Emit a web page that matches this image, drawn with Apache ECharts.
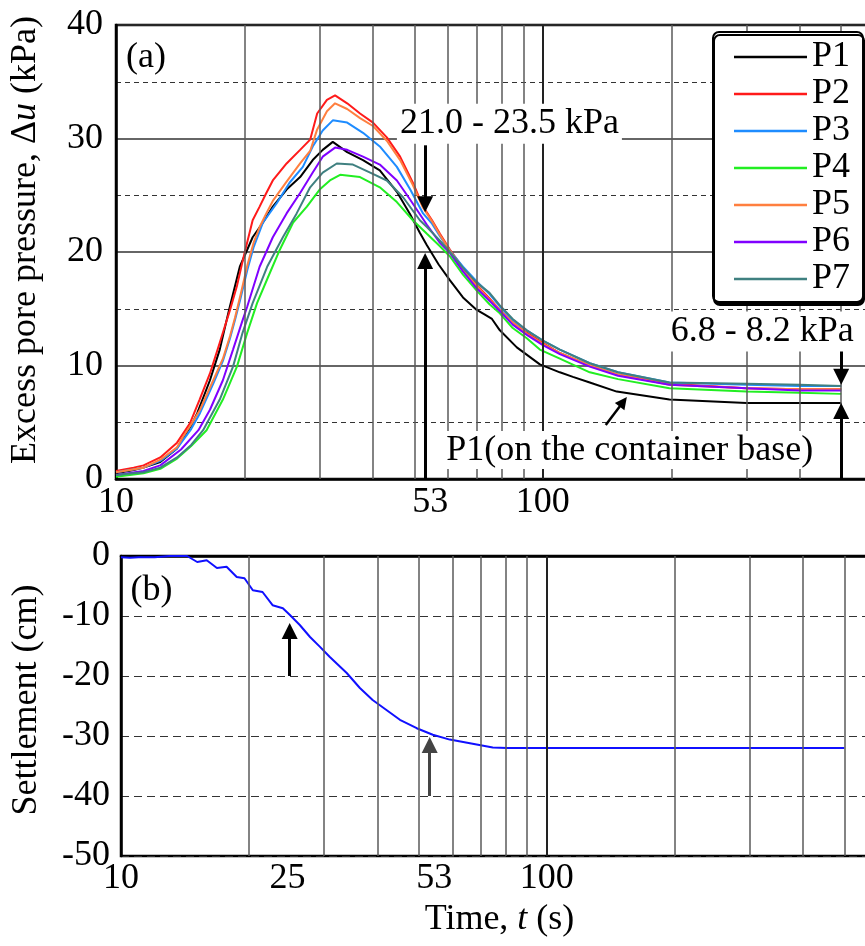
<!DOCTYPE html>
<html>
<head>
<meta charset="utf-8">
<script src="https://cdn.jsdelivr.net/npm/echarts@6/dist/echarts.min.js"></script>
<style>html,body{margin:0;padding:0;background:#fff}#c{width:865px;height:946px}</style>
</head>
<body>
<div id="c"></div>
<script>
// ---------- DATA (time in s) ----------
const seriesNames = ['P1', 'P2', 'P3', 'P4', 'P5', 'P6', 'P7'];

const p1 = [[10,0.5],[11,0.8],[11.6,1.0],[12.7,1.5],[13.9,2.7],[14.35,3.6],[15.0,4.7],[15.5,5.8],[16.6,8.7],[17.5,11.4],[18.4,14.9],[19.5,18.7],[20.9,21.3],[22.1,22.6],[23.3,24.0],[25.1,25.5],[27.0,26.6],[28.9,28.1],[30.5,29.0],[32.2,29.7],[34.8,28.8],[37.9,28.1],[41.5,27.2],[45.5,25.3],[48.9,23.3],[51.5,21.7],[53.5,20.6],[57,18.9],[60.6,17.5],[65,16.0],[70,14.9],[73,14.5],[76,14.1],[79.3,13.1],[86.9,11.6],[98.4,10.1],[109.6,9.4],[117.6,9.0],[128.8,8.5],[149,7.7],[198,7.0],[300,6.7],[400,6.7],[500,6.7]];
const p2 = [[10,0.7],[11,1.0],[11.6,1.2],[12.7,1.9],[13.9,3.2],[14.9,4.9],[15.7,7.0],[16.6,9.3],[17.5,12.0],[18.5,14.9],[19.2,17.0],[20.0,19.9],[20.9,22.8],[21.7,24.0],[22.5,25.2],[23.3,26.3],[25.1,27.8],[27.0,29.0],[28.5,29.9],[29.6,32.2],[31.2,33.4],[32.6,33.8],[34.8,33.1],[37.3,32.2],[40.0,31.4],[43.1,30.1],[46.3,28.4],[49.6,26.1],[52.4,24.0],[55,22.8],[57.4,21.6],[60.6,20.2],[65,18.6],[70,17.1],[75,15.9],[79.3,14.9],[85,13.8],[91.7,12.9],[100,12.0],[109.6,11.1],[128.8,10.0],[150,9.2],[198,8.4],[300,8.0],[400,7.9],[500,7.9]];
const p3 = [[10,0.6],[11.6,1.0],[12.7,1.6],[13.9,2.7],[15.0,4.4],[15.73,5.8],[16.9,8.4],[17.8,10.4],[18.5,12.4],[19.0,14.0],[19.6,16.0],[20.3,18.4],[21.0,20.4],[22.1,22.6],[23.8,24.3],[25.5,26.1],[27.4,27.5],[28.9,29.3],[30.5,30.7],[32.2,31.6],[34.8,31.4],[37.9,30.5],[41.5,29.3],[45.5,27.5],[48.9,25.5],[52.4,23.4],[55,22.5],[57.4,21.4],[60.6,20.1],[65,18.7],[70,17.4],[75,16.3],[79.3,15.2],[85,14.0],[91.7,13.1],[100,12.2],[109.6,11.4],[128.8,10.2],[150,9.4],[198,8.5],[300,8.3],[400,8.2],[500,8.2]];
const p4 = [[10,0.2],[11.6,0.5],[12.7,0.9],[13.9,1.8],[15.0,2.9],[16.3,4.3],[17.8,7.0],[19.2,9.9],[20.3,12.9],[21.4,15.5],[22.6,17.6],[24.2,20.2],[26.0,22.6],[28.0,24.0],[30.0,25.5],[31.7,26.3],[33.5,26.8],[37.3,26.6],[41.5,25.7],[45.5,24.4],[49.6,22.8],[53.5,21.6],[57.4,20.5],[60.6,19.6],[65,18.0],[70,16.6],[75,15.4],[79.3,14.6],[85,13.3],[91.7,12.4],[98.4,11.4],[109.6,10.6],[128.8,9.4],[150,8.8],[198,8.0],[300,7.7],[400,7.6],[500,7.5]];
const p5 = [[10,0.6],[11.6,1.0],[12.7,1.7],[13.9,2.8],[14.35,3.7],[15.0,4.8],[15.73,6.1],[16.9,8.7],[17.8,10.6],[18.5,12.6],[19.0,14.2],[19.6,16.3],[20.3,18.8],[21.0,20.8],[21.7,22.2],[22.5,23.4],[23.3,24.5],[25.1,26.2],[27.0,27.8],[28.5,28.9],[29.6,30.8],[31.2,32.4],[32.6,33.1],[34.8,32.6],[37.3,31.8],[40.0,31.1],[43.1,29.8],[46.3,28.1],[49.6,25.9],[52.4,23.9],[55,22.7],[57.4,21.5],[60.6,20.1],[65,18.5],[70,17.0],[75,15.8],[79.3,14.9],[85,13.8],[91.7,12.8],[100,11.9],[109.6,11.1],[128.8,10.0],[150,9.2],[198,8.3],[300,8.0],[400,7.9],[500,7.9]];
const p6 = [[10,0.35],[11.6,0.7],[12.7,1.2],[14.2,2.6],[15.6,4.3],[16.6,6.1],[17.8,8.7],[18.8,11.4],[19.8,14.0],[20.3,15.2],[21.7,18.7],[23.3,21.3],[25.1,23.4],[27.0,25.2],[28.9,27.0],[30.5,28.4],[32.6,29.2],[34.8,29.0],[37.9,28.4],[41.5,27.7],[45.5,26.3],[48.9,24.6],[53.5,22.4],[57.4,20.8],[60.6,19.9],[65,18.3],[70,16.8],[75,15.7],[79.3,14.8],[85,13.6],[91.7,12.7],[100,11.8],[109.6,11.0],[128.8,9.9],[150,9.1],[198,8.3],[300,8.0],[400,7.8],[500,7.8]];
const p7 = [[10,0.35],[11.6,0.6],[12.7,1.0],[13.9,1.9],[15.0,3.0],[16.0,4.3],[17.5,7.0],[18.8,9.9],[19.8,12.9],[20.9,15.5],[22.6,18.7],[24.6,21.3],[26.5,23.4],[28.5,25.7],[30.5,27.0],[32.9,27.8],[35.9,27.7],[39.4,27.0],[43.1,26.3],[47.1,24.8],[51.5,22.8],[53.5,22.2],[57.4,21.0],[60.6,20.0],[65,18.6],[70,17.3],[75,16.4],[79.3,15.3],[85,14.1],[91.7,13.1],[100,12.2],[109.6,11.4],[128.8,10.2],[150,9.4],[198,8.5],[300,8.4],[400,8.3],[500,8.2]];

const settlement = [[10,-0.2],[10.5,-0.3],[11,-0.2],[12,-0.2],[13,0],[14.3,0],[15.1,-1.0],[15.9,-0.7],[16.8,-2.0],[17.7,-1.8],[18.7,-3.5],[19.5,-3.7],[20.4,-5.7],[21.5,-6.0],[22.7,-8.2],[24.0,-8.7],[24.9,-9.8],[26.3,-11.5],[27.8,-13.5],[29.3,-15.1],[30.9,-16.8],[33.9,-19.5],[36.4,-22.0],[39.0,-24.0],[42.1,-25.7],[45.2,-27.3],[49.5,-28.7],[54.0,-29.8],[59.2,-30.6],[66.0,-31.2],[74.7,-31.9],[80.6,-32.0],[100,-32.0],[200,-32.0],[300,-32.0],[500,-32.0]];

const xTickLabelsTop = [10, 53, 100];
const xTickLabelsBottom = [10, 25, 53, 100];
const xGridValues = [20, 30, 40, 50, 60, 70, 80, 90, 100, 200, 300, 400, 500];

// ---------- CHART ----------
const FONT = 'Liberation Serif';
const curves = [p1, p2, p3, p4, p5, p6, p7];
const curveColors = ['#000000', '#ff1a1a', '#1e8cff', '#22ee22', '#ff7f3f', '#8000ff', '#3f8080'];
const isPow10 = v => Math.abs(Math.log10(v) - Math.round(Math.log10(v))) < 1e-6;

const chart = echarts.init(document.getElementById('c'));

function xAxisDef(gridIndex, labels, name) {
  return {
    gridIndex, type: 'log', logBase: 10, min: 10, max: 600,
    axisLine: { show: true, lineStyle: { color: '#000', width: 2.5 } },
    axisTick: { show: false },
    splitLine: { show: false },
    axisLabel: {
      fontSize: 36, fontFamily: FONT, color: '#000', margin: gridIndex === 0 ? 6 : 5,
      formatter: v => (isPow10(v) && labels.includes(Math.round(v))) ? String(Math.round(v)) : ''
    },
    name: name || '', nameLocation: 'middle', nameGap: 46,
    nameTextStyle: { fontSize: 36, fontFamily: FONT, color: '#000',
      rich: { i: { fontStyle: 'italic', fontSize: 36, fontFamily: FONT, color: '#000' } } }
  };
}

function gridLineSeries(idx) {
  return {
    type: 'line', name: '_grid' + idx, xAxisIndex: idx, yAxisIndex: idx, data: [], z: 1, silent: true,
    markLine: {
      silent: true, symbol: ['none', 'none'], label: { show: false }, animation: false,
      lineStyle: { color: '#5a5a5a', width: 1.5, type: 'solid' },
      data: xGridValues.map(v => ({ xAxis: v, lineStyle: v === 100 ? { color: '#222', width: 2 } : {} }))
    }
  };
}

const solidItem = { opacity: 1 };

function extraTickSeries(idx, labels, yMin) {
  return {
    type: 'scatter', name: '_ticks' + idx, xAxisIndex: idx, yAxisIndex: idx, symbolSize: 0, z: 5, silent: true,
    itemStyle: solidItem,
    data: labels.filter(v => !isPow10(v)).map(v => ({
      value: [v, yMin],
      label: { formatter: String(v), offset: [v === 53 ? 5 : -3, 0] }
    })),
    label: { show: true, position: 'bottom', distance: idx === 0 ? 6 : 5, fontSize: 36, fontFamily: FONT, color: '#000', opacity: 1 }
  };
}

const textStyleAnno = { show: true, position: 'inside', fontSize: 36, fontFamily: FONT, color: '#000', opacity: 1 };

const option = {
  animation: false,
  backgroundColor: '#fff',
  grid: [
    { left: 116, top: 25, right: -10, height: 454, show: true, borderColor: '#000', borderWidth: 2.5, outerBoundsMode: 'none' },
    { left: 121, top: 556, right: -13, height: 300, show: true, borderColor: '#000', borderWidth: 2.5, outerBoundsMode: 'none' }
  ],
  xAxis: [xAxisDef(0, xTickLabelsTop), xAxisDef(1, xTickLabelsBottom, 'Time, {i|t} (s)')],
  yAxis: [
    {
      gridIndex: 0, type: 'value', min: 0, max: 40, interval: 10,
      axisLine: { show: true, lineStyle: { color: '#000', width: 2.5 } },
      axisTick: { show: false },
      axisLabel: { fontSize: 36, fontFamily: FONT, color: '#000', margin: 13 },
      splitLine: { show: true, lineStyle: { color: '#333', width: 1.5 } },
      minorTick: { show: false, splitNumber: 2 },
      minorSplitLine: { show: true, lineStyle: { color: '#333', width: 1.2, type: [5, 4] } },
      name: 'Excess pore pressure, Δ{i|u} (kPa)', nameLocation: 'middle', nameGap: 72,
      nameTextStyle: { fontSize: 36, fontFamily: FONT, color: '#000', padding: [0, 0, 0, 24],
        rich: { i: { fontStyle: 'italic', fontSize: 36, fontFamily: FONT, color: '#000' } } }
    },
    {
      gridIndex: 1, type: 'value', min: -50, max: 0, interval: 10,
      axisLine: { show: true, lineStyle: { color: '#000', width: 2.5 } },
      axisTick: { show: false },
      axisLabel: { fontSize: 36, fontFamily: FONT, color: '#000', margin: 11 },
      splitLine: { show: true, lineStyle: { color: '#333', width: 1.2, type: [8, 5] } },
      name: 'Settlement (cm)', nameLocation: 'middle', nameGap: 76,
      nameTextStyle: { fontSize: 36, fontFamily: FONT, color: '#000', padding: [0, 0, 0, 12] }
    }
  ],
  legend: {
    data: seriesNames, orient: 'vertical', left: 713, top: 32,
    icon: 'rect', itemWidth: 73, itemHeight: 2.5, itemGap: 1,
    padding: [7, 13, 5, 21],
    backgroundColor: '#fff', borderColor: '#000', borderWidth: 2, borderRadius: 6,
    shadowColor: '#000', shadowOffsetX: 1, shadowOffsetY: 3, shadowBlur: 0,
    textStyle: { fontSize: 36, fontFamily: FONT, color: '#000' },
    selectedMode: false, z: 10
  },
  series: [
    gridLineSeries(0),
    gridLineSeries(1),
    ...curves.map((d, i) => ({
      type: 'line', name: seriesNames[i], xAxisIndex: 0, yAxisIndex: 0, data: d,
      symbol: 'none', showSymbol: false, z: 3,
      lineStyle: { color: curveColors[i], width: 2 }, itemStyle: { color: curveColors[i] }
    })),
    {
      type: 'line', name: 'Settlement', xAxisIndex: 1, yAxisIndex: 1, data: settlement,
      symbol: 'none', showSymbol: false, z: 3,
      lineStyle: { color: '#1010ff', width: 2 }, itemStyle: { color: '#1010ff' }
    },
    extraTickSeries(0, xTickLabelsTop, 0),
    extraTickSeries(1, xTickLabelsBottom, -50),
    {
      type: 'scatter', name: '_annoTop', xAxisIndex: 0, yAxisIndex: 0, symbolSize: 0, z: 5, silent: true,
      itemStyle: solidItem, label: textStyleAnno,
      data: [
        { value: [11.75, 37.1], label: { formatter: '(a)' } },
        { value: [83.5, 31.3], label: { formatter: '21.0 - 23.5 kPa', backgroundColor: '#fff', padding: [2, 3] } },
        { value: [326.6, 13.0], label: { formatter: '6.8 - 8.2 kPa', backgroundColor: '#fff', padding: [2, 4] } },
        { value: [159.8, 2.55], label: { formatter: 'P1(on the container base)', backgroundColor: '#fff', padding: [1, 3] } }
      ]
    },
    {
      type: 'scatter', name: '_annoBottom', xAxisIndex: 1, yAxisIndex: 1, symbolSize: 0, z: 5, silent: true,
      itemStyle: solidItem, label: textStyleAnno,
      data: [{ value: [11.8, -5.8], label: { formatter: '(b)' } }]
    },
    {
      type: 'line', name: '_arrowsTop', xAxisIndex: 0, yAxisIndex: 0, data: [], z: 6, silent: true,
      markLine: {
        silent: true, symbol: ['none', 'triangle'], symbolSize: 16, label: { show: false }, animation: false,
        lineStyle: { color: '#000', width: 3, type: 'solid' },
        data: [
          [{ coord: [53, 29.4] }, { coord: [53, 24.2] }],
          [{ coord: [53, 0] }, { coord: [53, 19.2] }],
          [{ coord: [500, 11.8] }, { coord: [500, 9.0] }],
          [{ coord: [500, 0] }, { coord: [500, 6.0] }],
          [{ coord: [140.4, 4.76], lineStyle: { width: 2.5 } }, { coord: [154.3, 6.8], symbolSize: 12 }]
        ]
      }
    },
    {
      type: 'line', name: '_arrowsBottom', xAxisIndex: 1, yAxisIndex: 1, data: [], z: 6, silent: true,
      markLine: {
        silent: true, symbol: ['none', 'triangle'], symbolSize: 16, label: { show: false }, animation: false,
        lineStyle: { color: '#000', width: 3, type: 'solid' },
        data: [
          [{ coord: [24.9, -20] }, { coord: [24.9, -12.5] }],
          [{ coord: [53.1, -40], lineStyle: { color: '#444' }, itemStyle: { color: '#444' } }, { coord: [53.1, -31.5], itemStyle: { color: '#444' } }]
        ]
      }
    }
  ]
};
chart.setOption(option);
</script>
</body>
</html>
